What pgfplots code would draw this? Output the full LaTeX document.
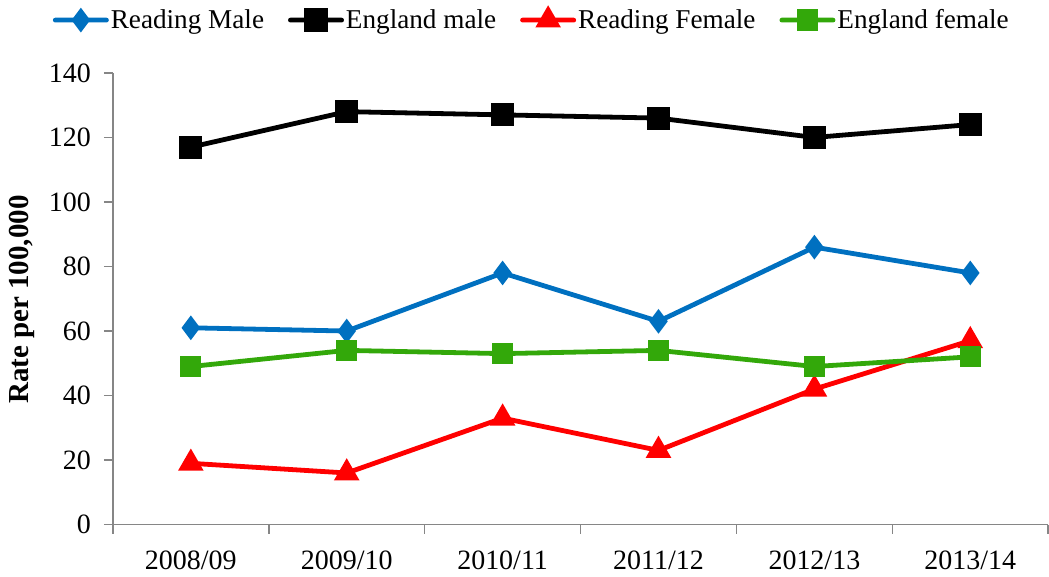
\documentclass[border=0pt]{standalone}
\usepackage{pgfplots}
\pgfplotsset{compat=1.18}
\usepackage{fontspec}
\setmainfont{Liberation Serif}
\definecolor{rblue}{RGB}{0,112,192}
\definecolor{egreen}{RGB}{51,168,10}
\definecolor{axgray}{RGB}{134,134,134}
\begin{document}
\begin{tikzpicture}
\begin{axis}[
  scale only axis,
  width=468pt, height=226pt,
  xmin=-0.5, xmax=5.5,
  ymin=0, ymax=140,
  ytick={0,20,...,140},
  xtick={0,...,5},
  xticklabels={2008/09,2009/10,2010/11,2011/12,2012/13,2013/14},
  minor xtick={-0.5,0.5,...,5.5},
  axis x line=bottom, axis y line=left,
  axis line style={axgray, line width=0.8pt, -},
  tick align=outside,
  major x tick style={draw=none},
  minor x tick style={axgray, line width=0.8pt},
  major y tick style={axgray, line width=0.8pt},
  major tick length=4.5pt, minor tick length=4.5pt,
  tick label style={font=\fontsize{14}{16}\selectfont},
  /pgf/number format/assume math mode=true,
  xticklabel style={yshift=-5pt},
  yticklabel style={xshift=-3pt},
  ylabel={\textbf{Rate per 100,000}},
  ylabel style={at={(rel axis cs:-0.097,0.498)}, anchor=center, font=\fontsize{14.5}{16}\selectfont},
  clip=false,
  legend columns=4,
  legend style={draw=none, fill=none, at={(rel axis cs:-0.071,1.117)}, anchor=west,
    font=\fontsize{13.6}{16}\selectfont,
    /tikz/every odd column/.append style={column sep=-1pt},
    /tikz/every even column/.append style={column sep=10pt}},
  legend cell align=left,
  legend image code/.code={%
    \path[#1, mark=none, draw=none, fill, rounded corners=1.2pt] (0pt,-1.2pt) rectangle (28pt,1.2pt);
    \draw[#1, mark repeat=1] plot coordinates {(14pt,0pt)};},
]
\path (rel axis cs:-0.1207,-0.1062) rectangle (rel axis cs:1,1.1615);
\addplot[rblue, line width=2.4pt, mark=diamond*, mark size=4.2pt, mark options={solid}] coordinates {(0,61) (1,60) (2,78) (3,63) (4,86) (5,78)};
\addlegendentry{Reading Male}
\addplot[black, line width=2.4pt, mark=square*, mark size=4.6pt] coordinates {(0,117) (1,128) (2,127) (3,126) (4,120) (5,124)};
\addlegendentry{England male}
\addplot[red, line width=2.4pt, mark=triangle*, mark size=5pt] coordinates {(0,19) (1,16) (2,33) (3,23) (4,42) (5,57)};
\addlegendentry{Reading Female}
\addplot[egreen, line width=2.4pt, mark=square*, mark size=4.1pt] coordinates {(0,49) (1,54) (2,53) (3,54) (4,49) (5,52)};
\addlegendentry{England female}
\end{axis}
\end{tikzpicture}
\end{document}
